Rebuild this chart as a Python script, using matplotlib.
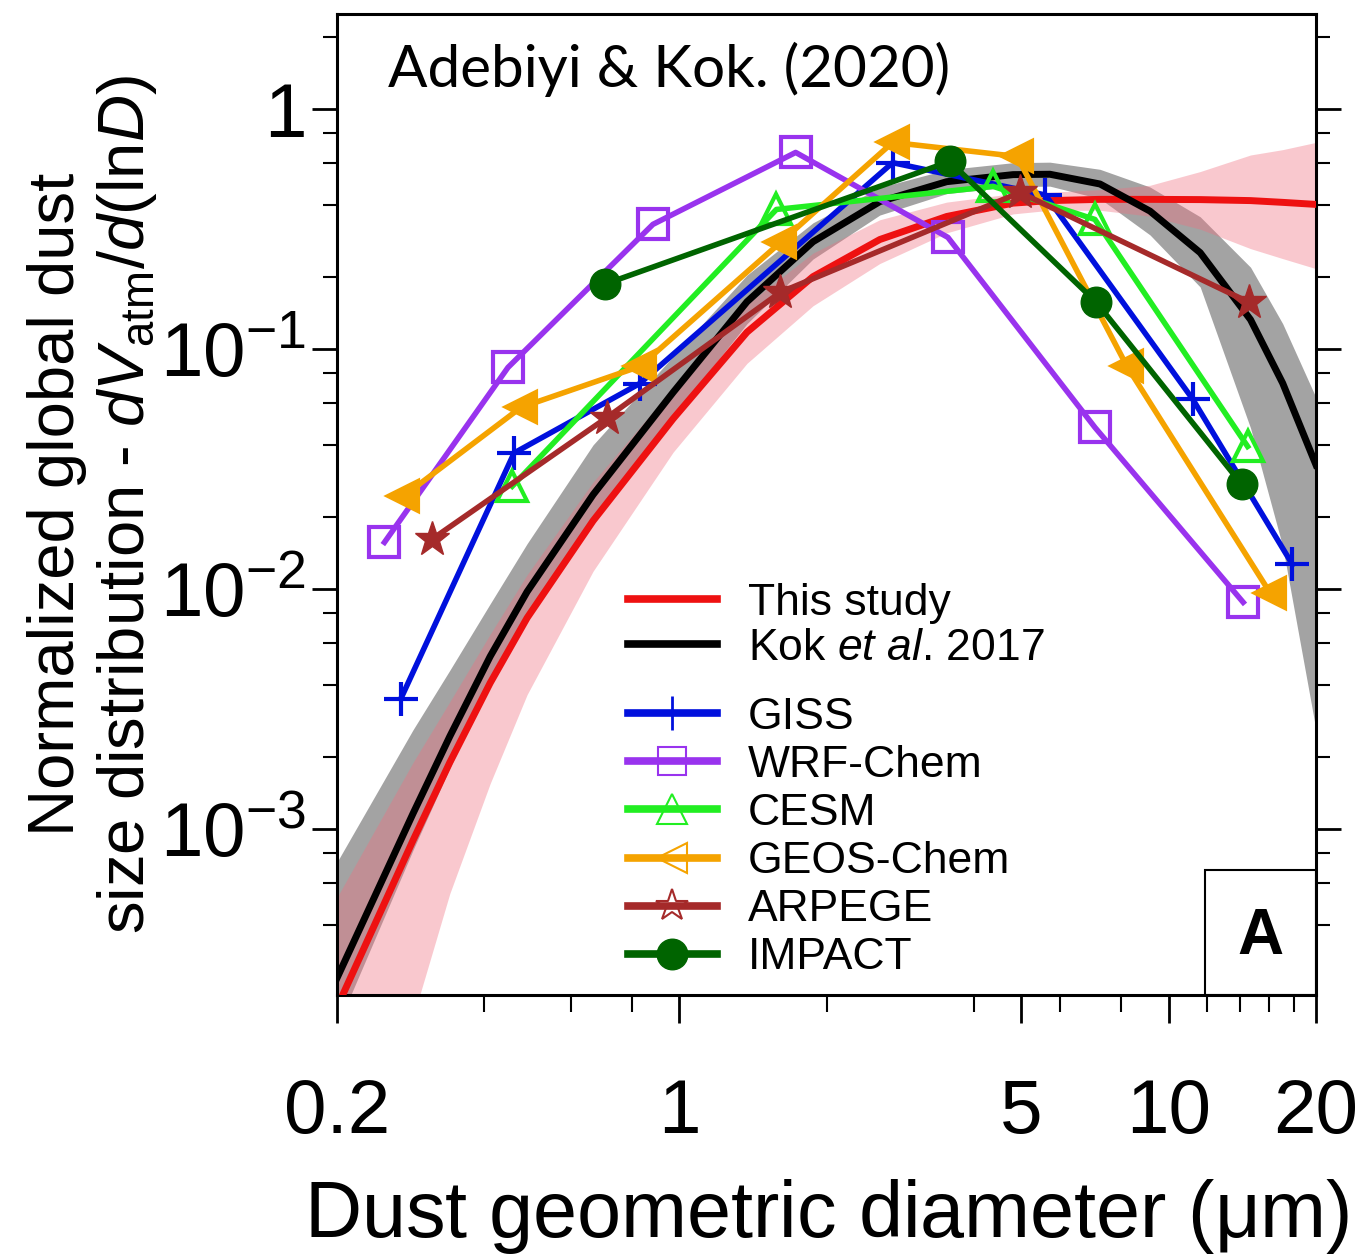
import numpy as np
import matplotlib
matplotlib.use("Agg")
import matplotlib.pyplot as plt
from matplotlib.lines import Line2D
from matplotlib.patches import Rectangle
from matplotlib.ticker import FixedLocator, NullFormatter

plt.rcParams['font.family'] = ['Liberation Sans', 'DejaVu Sans']
plt.rcParams['mathtext.fontset'] = 'custom'
plt.rcParams['mathtext.rm'] = 'Liberation Sans'
plt.rcParams['mathtext.it'] = 'Liberation Sans:italic'
plt.rcParams['mathtext.bf'] = 'Liberation Sans:bold'

# Fitted size distributions (diameter in micrometres)
diam_fit = [0.2, 0.286, 0.34, 0.411, 0.489, 0.667, 0.972, 1.376, 1.877, 2.57,
            3.52, 4.81, 5.72, 7.24, 9.16, 11.6, 14.7, 17.1, 20]
this_study = [1.81e-4, 9.0e-4, 1.9e-3, 4.07e-3, 7.6e-3, 0.0193, 0.0514, 0.118,
              0.201, 0.287, 0.358, 0.407, 0.417, 0.422, 0.422, 0.421, 0.417,
              0.41, 0.402]
this_study_lo = [1.81e-5, 1.64e-4, 5.4e-4, 1.55e-3, 3.64e-3, 0.0119, 0.0373,
                 0.0875, 0.152, 0.228, 0.306, 0.367, 0.38, 0.38, 0.359, 0.317,
                 0.263, 0.239, 0.217]
this_study_hi = [5.2e-4, 1.9e-3, 3.4e-3, 6.5e-3, 0.0115, 0.028, 0.0690, 0.154,
                 0.252, 0.347, 0.411, 0.446, 0.452, 0.463, 0.483, 0.551, 0.646,
                 0.68, 0.729]
kok2017 = [2.4e-4, 1.164e-3, 2.44e-3, 5.25e-3, 9.77e-3, 0.0248, 0.0662, 0.158,
           0.281, 0.413, 0.500, 0.535, 0.537, 0.489, 0.377, 0.253, 0.133,
           0.0723, 0.033]
kok2017_lo = [1.5e-4, 8.2e-4, 1.8e-3, 4.0e-3, 7.6e-3, 0.0197, 0.0526, 0.128,
              0.238, 0.363, 0.446, 0.477, 0.479, 0.425, 0.3, 0.182, 0.047,
              0.0151, 0.0026]
kok2017_hi = [7.3e-4, 2.6e-3, 4.6e-3, 8.7e-3, 0.0155, 0.04, 0.0935, 0.204,
              0.337, 0.473, 0.561, 0.6, 0.603, 0.563, 0.475, 0.357, 0.22,
              0.128, 0.063]

# Model size distributions
giss_d = [0.27, 0.46, 0.83, 2.73, 5.6, 11.2, 17.9]
giss_v = [0.0035, 0.037, 0.072, 0.60, 0.44, 0.062, 0.0127]
wrf_d = [0.25, 0.447, 0.884, 1.73, 3.54, 7.07, 14.2]
wrf_v = [0.0157, 0.0841, 0.332, 0.662, 0.293, 0.0473, 0.00883]
cesm_d = [0.456, 1.58, 4.38, 7.07, 14.5]
cesm_v = [0.0269, 0.383, 0.478, 0.348, 0.0394]
geos_d = [0.273, 0.475, 0.832, 1.61, 2.73, 4.90, 8.22, 16.1]
geos_v = [0.0244, 0.0573, 0.085, 0.279, 0.729, 0.637, 0.085, 0.0097]
arpege_d = [0.313, 0.712, 1.61, 4.97, 14.6]
arpege_v = [0.0162, 0.052, 0.173, 0.451, 0.157]
impact_d = [0.705, 3.57, 7.1, 14.1]
impact_v = [0.187, 0.607, 0.158, 0.0274]

fig = plt.figure(figsize=(13.65, 12.58), dpi=100)
ax = fig.add_axes([0.2469, 0.2091, 0.7172, 0.7798])
ax.set_xscale('log')
ax.set_yscale('log')
ax.set_xlim(0.2, 20)
ax.set_ylim(2.04e-4, 2.5)

ax.fill_between(diam_fit, kok2017_lo, kok2017_hi, color='#a3a3a3', lw=0, zorder=1)
ax.fill_between(diam_fit, this_study_lo, this_study_hi, color='#f07080',
                alpha=0.38, lw=0, zorder=2)

ax.plot(diam_fit, this_study, color='#ee1111', lw=5, zorder=3,
        solid_joinstyle='round')
ax.plot(diam_fit, kok2017, color='black', lw=5, zorder=4,
        solid_joinstyle='round')

model_lw = 4.0
ax.plot(giss_d, giss_v, color='#0010dd', lw=model_lw, marker='+', ms=24,
        mew=3, zorder=5)
ax.plot(wrf_d, wrf_v, color='#9933ee', lw=model_lw, marker='s', ms=21,
        mfc='none', mew=3, zorder=5)
ax.plot(cesm_d, cesm_v, color='#22ee22', lw=model_lw, marker='^', ms=22,
        mfc='none', mew=3, zorder=5)
ax.plot(geos_d, geos_v, color='#f5a300', lw=model_lw, marker='<', ms=22,
        mew=3, zorder=5)
ax.plot(arpege_d, arpege_v, color='#a52a2a', lw=model_lw, marker='*', ms=26,
        mew=1, zorder=5)
ax.plot(impact_d, impact_v, color='#006400', lw=model_lw, marker='o', ms=22,
        zorder=6)

# Axes styling
for side in ['left', 'right', 'top', 'bottom']:
    ax.spines[side].set_linewidth(2.2)
ax.set_xticks([0.2, 1, 5, 10, 20])
ax.set_xticklabels(['0.2', '1', '5', '10', '20'])
ax.xaxis.set_minor_locator(FixedLocator([0.4, 0.6, 0.8, 2, 4, 6, 8, 12, 14, 16, 18]))
ax.xaxis.set_minor_formatter(NullFormatter())
ax.set_yticks([1e-3, 1e-2, 1e-1, 1])
ax.set_yticklabels([r'$\mathregular{10^{-3}}$', r'$\mathregular{10^{-2}}$',
                    r'$\mathregular{10^{-1}}$', '1'])
ymin_ticks = [m * 10.0 ** e for e in range(-4, 1) for m in (2, 4, 6, 8)]
ax.yaxis.set_minor_locator(FixedLocator(ymin_ticks))
ax.yaxis.set_minor_formatter(NullFormatter())
ax.tick_params(axis='x', which='major', direction='out', length=20, width=2,
               labelsize=55, pad=40, top=False)
ax.tick_params(axis='x', which='minor', direction='out', length=12, width=1.5,
               top=False)
ax.tick_params(axis='y', which='major', direction='out', length=18, width=2,
               labelsize=55, pad=4, right=True)
ax.tick_params(axis='y', which='minor', direction='out', length=10, width=1.5,
               right=True)

ax.set_xlabel(r'Dust geometric diameter ($\mathregular{\mu}$m)', fontsize=57,
              labelpad=20)
ax.set_ylabel('Normalized global dust\n'
              r'size distribution - $\mathit{dV}_{\mathregular{atm}}/\mathit{d}$(ln$\mathit{D}$)',
              fontsize=47, linespacing=1.15, labelpad=1)

ax.text(0.052, 0.943, 'Adebiyi & Kok. (2020)', transform=ax.transAxes,
        fontsize=42, family=['Lato', 'DejaVu Sans'], va='center', ha='left')

# Panel label box
ax.add_patch(Rectangle((0.887, 0.0), 0.113, 0.127, transform=ax.transAxes,
                       fill=False, lw=1.5, ec='black', zorder=7))
ax.text(0.9435, 0.059, 'A', transform=ax.transAxes, fontsize=46,
        fontweight='bold', ha='center', va='center', zorder=8)

# Legends
h_fit = [Line2D([], [], color='#ee1111', lw=5.5),
         Line2D([], [], color='black', lw=5.5)]
leg1 = ax.legend(h_fit, ['This study', r'Kok $\mathit{et\ al}$. 2017'],
                 loc='upper left', bbox_to_anchor=(0.297, 0.420),
                 frameon=False, fontsize=32, handlelength=2.0,
                 handletextpad=0.7, labelspacing=0.09, borderpad=0,
                 borderaxespad=0)
ax.add_artist(leg1)
h_mod = [Line2D([], [], color='#0010dd', lw=5.5, marker='+', ms=24, mew=2),
         Line2D([], [], color='#9933ee', lw=5.5, marker='s', ms=20, mfc='none', mew=1.5),
         Line2D([], [], color='#22ee22', lw=5.5, marker='^', ms=22, mfc='none', mew=1.5),
         Line2D([], [], color='#f5a300', lw=5.5, marker='<', ms=22, mfc='none', mew=1.5),
         Line2D([], [], color='#a52a2a', lw=5.5, marker='*', ms=24, mfc='none', mew=1.5),
         Line2D([], [], color='#006400', lw=5.5, marker='o', ms=22)]
ax.legend(h_mod, ['GISS', 'WRF-Chem', 'CESM', 'GEOS-Chem', 'ARPEGE', 'IMPACT'],
          loc='upper left', bbox_to_anchor=(0.297, 0.304), frameon=False,
          fontsize=32, handlelength=2.0, handletextpad=0.7,
          labelspacing=0.16, borderpad=0, borderaxespad=0)

fig.savefig('out.png', dpi=100)
